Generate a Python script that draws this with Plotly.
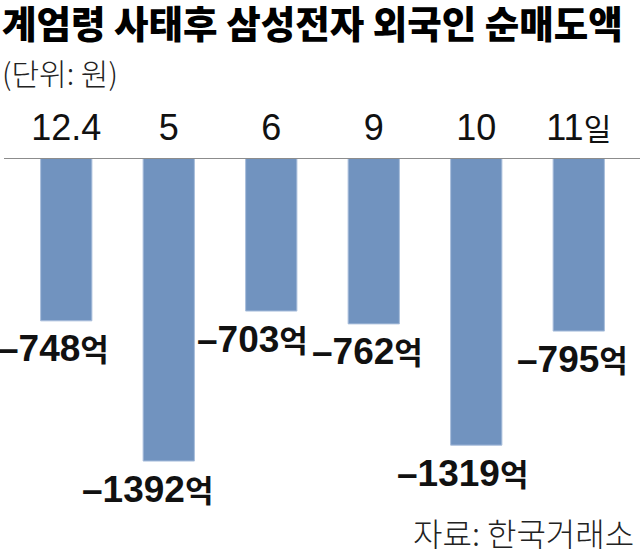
import plotly.graph_objects as go

# 계엄령 사태 후 삼성전자 외국인 순매도액 (억원)
days = ["12.4", "5", "6", "9", "10", "11일"]
net_sell = [-748, -1392, -703, -762, -1319, -795]

title_text = "계엄령 사태후 삼성전자 외국인 순매도액"
unit_text = "(단위: 원)"
source_text = "자료: 한국거래소"

# small nudges for the value labels (px), as in the original artwork
label_dx = [-13, -21, -19, -6, -14, -6]

num_font = "Liberation Sans, Arial, Noto Sans CJK KR"
kr_font = "Noto Sans CJK KR"

W, H = 640, 553
L, R, T, B = 15, 10, 158, 0
plot_w = W - L - R
plot_h = H - T - B
px_per_unit = 0.2177
y_min = -plot_h / px_per_unit


def tick_label(s):
    if s.endswith("일"):
        return s[:-1] + "<span style='font-size:30px'>일</span>"
    return s


fig = go.Figure()

fig.add_trace(go.Bar(
    x=days,
    y=net_sell,
    width=0.5,
    marker=dict(color="#7193bf", line=dict(color="#a7bddb", width=1)),
    hoverinfo="skip",
))

# value labels under each bar (category axis: position by index)
for i, (v, dx) in enumerate(zip(net_sell, label_dx)):
    fig.add_annotation(
        x=i, y=v, xref="x", yref="y",
        text="–" + str(abs(v)) + "<span style='font-size:31px'>억</span>",
        showarrow=False,
        xanchor="center", yanchor="middle",
        xshift=dx, yshift=-28,
        font=dict(family=num_font, size=37, color="#111111", weight="bold"),
    )

# axis baseline across the full width
fig.add_shape(type="line", xref="paper", yref="y",
              x0=-11 / plot_w, x1=1 + R / plot_w, y0=0, y1=0,
              line=dict(color="#8c8c8c", width=2))

fig.add_annotation(
    x=-L / plot_w, y=(H - 22) / plot_h, xref="paper", yref="paper",
    text=title_text, showarrow=False, xanchor="left", yanchor="middle",
    font=dict(family=kr_font, size=37.5, color="#000000", weight=900),
)

fig.add_annotation(
    x=-L / plot_w, y=(H - 72) / plot_h, xref="paper", yref="paper",
    text=unit_text, showarrow=False, xanchor="left", yanchor="middle",
    font=dict(family=kr_font, size=30, color="#222222", weight=300),
)

fig.add_annotation(
    x=(636 - L) / plot_w, y=(H - 532) / plot_h, xref="paper", yref="paper",
    text=source_text, showarrow=False, xanchor="right", yanchor="middle",
    font=dict(family=kr_font, size=32, color="#222222", weight=300),
)

fig.update_layout(
    width=W, height=H,
    margin=dict(l=L, r=R, t=T, b=B),
    paper_bgcolor="white",
    plot_bgcolor="white",
    showlegend=False,
    xaxis=dict(
        type="category",
        range=[-0.5, len(days) - 0.5],
        side="top",
        tickmode="array",
        tickvals=days,
        ticktext=[tick_label(s) for s in days],
        tickangle=0,
        tickfont=dict(family=num_font, size=36, color="#111111"),
        ticks="",
        showline=False,
        showgrid=False,
        zeroline=False,
        ticklabelstandoff=10,
    ),
    yaxis=dict(
        range=[y_min, 0],
        visible=False,
        showgrid=False,
        zeroline=False,
    ),
)

fig.write_html("out.html", config={"displayModeBar": False},
               post_script="document.body.style.margin='0';")
